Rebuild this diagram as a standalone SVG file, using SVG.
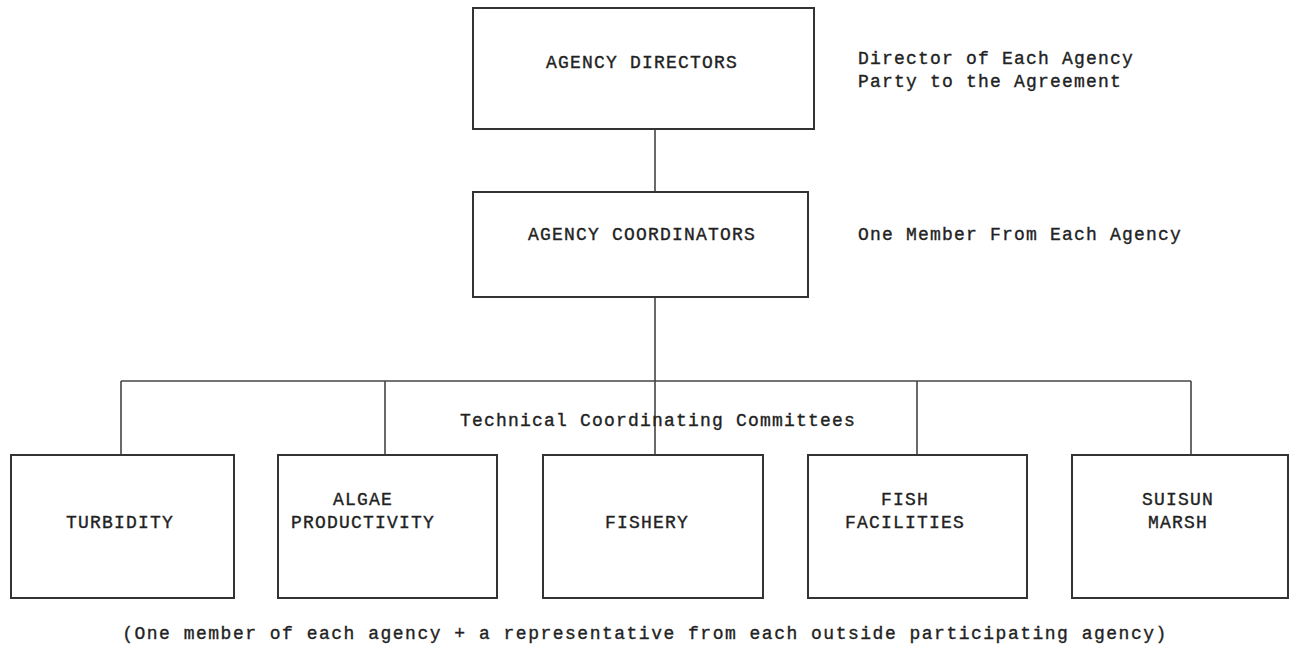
<svg xmlns="http://www.w3.org/2000/svg" width="1290" height="650" viewBox="0 0 1290 650">
<style>
.box{fill:none;stroke:#333;stroke-width:2}
.ln{fill:none;stroke:#444;stroke-width:1.6}
text{font-family:"Liberation Mono","DejaVu Sans Mono",monospace;font-size:18px;letter-spacing:1.2px;fill:#222;stroke:#222;stroke-width:0.35}
.c{text-anchor:middle}
.fn{letter-spacing:1.5px}
</style>
<rect width="1290" height="650" fill="#fff"/>
<g id="connectors">
<line class="ln" x1="655" y1="129" x2="655" y2="192"/>
<line class="ln" x1="655" y1="297" x2="655" y2="455"/>
<line class="ln" x1="121" y1="381" x2="1191" y2="381"/>
<line class="ln" x1="121" y1="381" x2="121" y2="455"/>
<line class="ln" x1="385" y1="381" x2="385" y2="455"/>
<line class="ln" x1="917" y1="381" x2="917" y2="455"/>
<line class="ln" x1="1191" y1="381" x2="1191" y2="455"/>
</g>
<g id="directors">
<rect class="box" x="473" y="8" width="341" height="121"/>
<text class="c" x="642" y="68">AGENCY DIRECTORS</text>
</g>
<g id="directors-note">
<text x="858" y="64">Director of Each Agency</text>
<text x="858" y="87">Party to the Agreement</text>
</g>
<g id="coordinators">
<rect class="box" x="473" y="192" width="335" height="105"/>
<text class="c" x="642" y="240">AGENCY COORDINATORS</text>
</g>
<g id="coordinators-note">
<text x="858" y="240">One Member From Each Agency</text>
</g>
<g id="tcc-label">
<text class="c" x="658" y="426">Technical Coordinating Committees</text>
</g>
<g id="turbidity">
<rect class="box" x="11" y="455" width="223" height="143"/>
<text class="c" x="120" y="528">TURBIDITY</text>
</g>
<g id="algae">
<rect class="box" x="278" y="455" width="219" height="143"/>
<text class="c" x="363" y="505">ALGAE</text>
<text class="c" x="363" y="528">PRODUCTIVITY</text>
</g>
<g id="fishery">
<rect class="box" x="543" y="455" width="220" height="143"/>
<text class="c" x="647" y="528">FISHERY</text>
</g>
<g id="fish-facilities">
<rect class="box" x="808" y="455" width="219" height="143"/>
<text class="c" x="905" y="505">FISH</text>
<text class="c" x="905" y="528">FACILITIES</text>
</g>
<g id="suisun">
<rect class="box" x="1072" y="455" width="216" height="143"/>
<text class="c" x="1178" y="505">SUISUN</text>
<text class="c" x="1178" y="528">MARSH</text>
</g>
<g id="footnote">
<text class="c fn" x="645" y="639">(One member of each agency + a representative from each outside participating agency)</text>
</g>
</svg>
